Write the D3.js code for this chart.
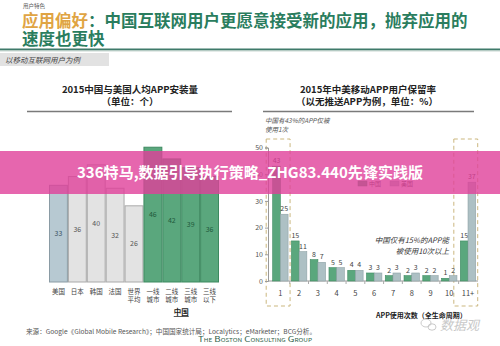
<!DOCTYPE html>
<html>
<head>
<meta charset="utf-8">
<script src="https://cdn.jsdelivr.net/npm/d3@7"></script>
<style>
  html, body { margin: 0; padding: 0; background: #fff; }
  svg { display: block; }
  text { font-family: "Noto Sans CJK SC", "Noto Sans", sans-serif; }
</style>
</head>
<body>
<svg id="chart" width="500" height="346"></svg>
<script>
// Per-capita installed apps, 2015
const leftCategories = ["美国", "日本", "韩国", "法国", "世界平均", "一线城市", "二线城市", "三线城市", "三线以下"];
const leftLabelLines = [["美国"], ["日本"], ["韩国"], ["法国"], ["世界", "平均"], ["一线", "城市"], ["二线", "城市"], ["三线", "城市"], ["三线", "以下"]];
const leftValues = [33, 36, 40, 32, 26, 46, 42, 39, 36];
const leftGroups = ["us", "other", "other", "other", "other", "cn", "cn", "cn", "cn"];

// App retention by lifetime use count, 2015 (%)
const useCounts = ["1", "2", "3", "4", "5", "6", "7", "8", "9", "10", "11+"];
const chinaRetention = [43, 15, 8, 5, 4, 3, 2, 2, 2, 1, 15];
const usRetention = [25, 11, 7, 5, 4, 3, 3, 3, 2, 2, 37];
const retentionTicks = [0, 10, 20, 30, 40, 50];
const seriesNames = ["中国", "美国"];

const svg = d3.select("#chart");
const green = "#5aa77d", greenDark = "#3d8a60";

// ---------- header ----------
svg.append("text").attr("x", 23).attr("y", 7.5).attr("font-size", 5.5).attr("fill", "#555").text("用户特色");
const t1 = svg.append("text").attr("x", 22).attr("y", 27).attr("font-size", 16.5).attr("font-weight", 700);
t1.append("tspan").attr("fill", "#e0a443").text("应用偏好");
t1.append("tspan").attr("fill", "#2a7d5e").text("：中国互联网用户更愿意接受新的应用，抛弃应用的");
svg.append("text").attr("x", 22).attr("y", 44.5).attr("font-size", 16.5).attr("font-weight", 700)
  .attr("fill", "#2a7d5e").text("速度也更快");
svg.append("rect").attr("x", 0).attr("y", 48.5).attr("width", 500).attr("height", 2).attr("fill", "#3f7a6a");
svg.append("rect").attr("x", 0).attr("y", 50.5).attr("width", 500).attr("height", 1).attr("fill", "#c9d8d2");
svg.append("rect").attr("x", 0).attr("y", 53).attr("width", 109).attr("height", 13).attr("fill", "#e2e2e2");
svg.append("text").attr("x", 5).attr("y", 63).attr("font-size", 7.5).attr("font-style", "italic")
  .attr("fill", "#444").text("以移动互联网用户为例");

// ---------- left chart ----------
svg.append("text").attr("x", 130).attr("y", 92.5).attr("text-anchor", "middle").attr("font-size", 9.5)
  .attr("font-weight", 700).attr("fill", "#222").text("2015中国与美国人均APP安装量");
svg.append("text").attr("x", 130).attr("y", 105).attr("text-anchor", "middle").attr("font-size", 9.5)
  .attr("font-weight", 700).attr("fill", "#222").text("（单位：个）");
svg.append("line").attr("x1", 27).attr("x2", 232).attr("y1", 111.5).attr("y2", 111.5)
  .attr("stroke", "#7a7a7a").attr("stroke-width", 1.5);

const xLeft = d3.scaleBand().domain(leftCategories).range([49, 219]).padding(0);
const yLeft = d3.scaleLinear().domain([0, 50]).range([282, 135.5]);
const fillFor = { us: "#b7c9d2", other: "#e3e3e3", cn: green };
const strokeFor = { us: "#8a9ba4", other: "#a9a9a9", cn: greenDark };
const labelFor = { us: "#3d5566", other: "#555", cn: "#1f5a3c" };

const lbars = svg.append("g");
leftCategories.forEach((c, i) => {
  const g = leftGroups[i];
  lbars.append("rect")
    .attr("x", xLeft(c) + 0.5).attr("y", yLeft(leftValues[i]))
    .attr("width", xLeft.bandwidth() - 1).attr("height", yLeft(0) - yLeft(leftValues[i]))
    .attr("fill", fillFor[g]).attr("stroke", strokeFor[g]).attr("stroke-width", 1);
  lbars.append("text")
    .attr("x", xLeft(c) + xLeft.bandwidth() / 2)
    .attr("y", (yLeft(leftValues[i]) + yLeft(0)) / 2 + 2.5)
    .attr("text-anchor", "middle").attr("font-size", 7).attr("fill", labelFor[g])
    .text(leftValues[i]);
  leftLabelLines[i].forEach((ln, j) => {
    lbars.append("text")
      .attr("x", xLeft(c) + xLeft.bandwidth() / 2).attr("y", 294 + j * 7.5)
      .attr("text-anchor", "middle").attr("font-size", 6.5).attr("fill", "#444").text(ln);
  });
});
const cnMid = (xLeft("一线城市") + xLeft("三线以下") + xLeft.bandwidth()) / 2;
svg.append("text").attr("x", cnMid).attr("y", 315).attr("text-anchor", "middle").attr("font-size", 7.5)
  .attr("font-weight", 700).attr("fill", "#222").attr("text-decoration", "underline").text("中国");

// ---------- right chart ----------
svg.append("text").attr("x", 368).attr("y", 92.5).attr("text-anchor", "middle").attr("font-size", 9.5)
  .attr("font-weight", 700).attr("fill", "#222").text("2015年中美移动APP用户保留率");
svg.append("text").attr("x", 367).attr("y", 105).attr("text-anchor", "middle").attr("font-size", 9.5)
  .attr("font-weight", 700).attr("fill", "#222").text("（以无推送APP为例，单位：%）");
svg.append("line").attr("x1", 263).attr("x2", 474).attr("y1", 111.5).attr("y2", 111.5)
  .attr("stroke", "#7a7a7a").attr("stroke-width", 1.5);
svg.append("text").attr("x", 265).attr("y", 123).attr("font-size", 6.5).attr("font-style", "italic")
  .attr("fill", "#555").text("中国有43%的APP仅被");
svg.append("text").attr("x", 265).attr("y", 132).attr("font-size", 6.5).attr("font-style", "italic")
  .attr("fill", "#555").text("使用1次");

const xRight = d3.scaleBand().domain(useCounts).range([271, 477.4]).paddingInner(0.18).paddingOuter(0.09);
const xSeries = d3.scaleBand().domain(seriesNames).range([0, xRight.bandwidth()]);
const yRight = d3.scaleLinear().domain([0, 50]).range([281, 147.5]);
const seriesFill = { "中国": green, "美国": "#adc0c4" };
const seriesStroke = { "中国": greenDark, "美国": "#8fa2a6" };

// dashed highlight boxes around first and last use-count groups
["1", "11+"].forEach(c => {
  svg.append("rect")
    .attr("x", xRight(c) - 6.5).attr("y", 139)
    .attr("width", xRight.bandwidth() + 8.5).attr("height", 167)
    .attr("fill", "none").attr("stroke", "#cbb77f").attr("stroke-width", 1)
    .attr("stroke-dasharray", "4,3");
});

const yAxis = svg.append("g").attr("transform", "translate(268,0)")
  .call(d3.axisLeft(yRight).tickValues(retentionTicks).tickSize(3).tickPadding(2));
yAxis.select(".domain").attr("stroke", "#999");
yAxis.selectAll(".tick line").attr("stroke", "#999");
yAxis.selectAll("text").attr("font-size", 7).attr("fill", "#555").attr("font-family", "Liberation Sans, sans-serif");

const xAxis = svg.append("g").attr("transform", "translate(0,281)")
  .call(d3.axisBottom(xRight).tickSize(0).tickPadding(10));
xAxis.select(".domain").attr("stroke", "#999").attr("d", "M268,0H478");
xAxis.selectAll("text").attr("font-size", 7.5).attr("fill", "#444").attr("font-family", "Liberation Sans, sans-serif");
useCounts.slice(1).forEach(c => {
  const bx = xRight(c) - xRight.step() * xRight.paddingInner() / 2;
  svg.append("line").attr("x1", bx).attr("x2", bx).attr("y1", 281).attr("y2", 284).attr("stroke", "#aaa");
});

const rseries = [chinaRetention, usRetention];
const rbars = svg.append("g");
useCounts.forEach((c, i) => {
  seriesNames.forEach((s, k) => {
    const v = rseries[k][i];
    const x = xRight(c) + xSeries(s);
    rbars.append("rect")
      .attr("x", x).attr("y", yRight(v))
      .attr("width", xSeries.bandwidth()).attr("height", yRight(0) - yRight(v))
      .attr("fill", seriesFill[s]).attr("stroke", seriesStroke[s]).attr("stroke-width", 0.6);
    rbars.append("text")
      .attr("x", x + xSeries.bandwidth() / 2).attr("y", yRight(v) - 3)
      .attr("text-anchor", "middle").attr("font-size", 7).attr("fill", "#444")
      .attr("font-family", "Liberation Sans, sans-serif").text(v);
  });
});

// legend
const leg = svg.append("g").attr("transform", "translate(358,181)");
seriesNames.forEach((s, k) => {
  leg.append("rect").attr("x", k * 32).attr("y", 0).attr("width", 9).attr("height", 5)
    .attr("fill", seriesFill[s]).attr("stroke", seriesStroke[s]).attr("stroke-width", 0.5);
  leg.append("text").attr("x", k * 32 + 11).attr("y", 5).attr("font-size", 6).attr("fill", "#444").text(s);
});

svg.append("text").attr("x", 449).attr("y", 243).attr("text-anchor", "end").attr("font-size", 7.5)
  .attr("font-style", "italic").attr("fill", "#333").text("中国仅有15%的APP能");
svg.append("text").attr("x", 449).attr("y", 254).attr("text-anchor", "end").attr("font-size", 7.5)
  .attr("font-style", "italic").attr("fill", "#333").text("被使用10次以上");
svg.append("text").attr("x", 376).attr("y", 317.5).attr("font-size", 7).attr("font-weight", 700)
  .attr("fill", "#222").text("APP使用次数（全生命周期）");

// ---------- footer ----------
svg.append("text").attr("x", 26).attr("y", 334).attr("font-size", 6.5).attr("fill", "#555")
  .attr("textLength", 290).attr("lengthAdjust", "spacingAndGlyphs")
  .text("来源：Google《Global Mobile Research》；中国国家统计局；Localytics；eMarketer；BCG分析。");
svg.append("text").attr("x", 198).attr("y", 342).attr("font-size", 7.5).attr("fill", "#2f5f4a")
  .attr("font-family", "Liberation Serif, serif").style("font-variant", "small-caps")
  .attr("textLength", 114).attr("lengthAdjust", "spacingAndGlyphs")
  .text("The Boston Consulting Group");
// WeChat account mark
const wm = svg.append("g").attr("fill", "none").attr("stroke", "#c4c4c4").attr("stroke-width", 0.9);
wm.append("ellipse").attr("cx", 426).attr("cy", 323).attr("rx", 5).attr("ry", 4);
wm.append("ellipse").attr("cx", 432).attr("cy", 327).attr("rx", 4).attr("ry", 3.2);
svg.append("text").attr("x", 440).attr("y", 330).attr("font-size", 13).attr("fill", "#c8c8c8")
  .attr("font-style", "italic").text("数据观");

// ---------- overlay banner ----------
svg.append("rect").attr("x", 0).attr("y", 151).attr("width", 500).attr("height", 43)
  .attr("fill", "#e0409a").attr("opacity", 0.8);
svg.append("text").attr("x", 250).attr("y", 178).attr("text-anchor", "middle").attr("font-size", 15)
  .attr("font-weight", 700).attr("fill", "#fff")
  .attr("textLength", 346).attr("lengthAdjust", "spacingAndGlyphs")
  .text("336特马,数据引导执行策略_ZHG83.440先锋实践版");
</script>
</body>
</html>
